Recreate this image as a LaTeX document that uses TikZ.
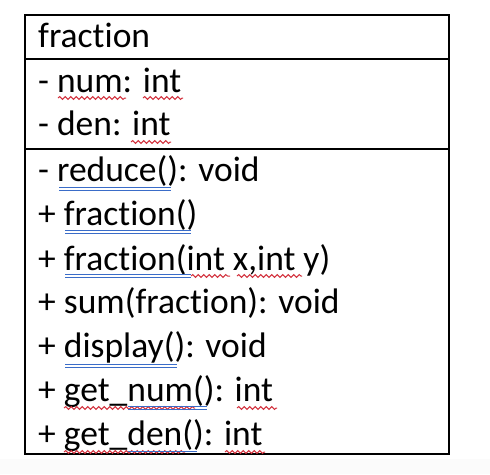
\documentclass[tikz,border=0pt]{standalone}
\usepackage{fontspec}
\setmainfont[Ligatures={NoCommon}]{Carlito}
\usetikzlibrary{decorations.pathmorphing}
\definecolor{spellred}{HTML}{D2303C}
\definecolor{grammarblue}{HTML}{3A6CC8}
\tikzset{
  member/.style={anchor=base west, inner sep=0pt, font=\fontsize{35.5}{40}\selectfont},
  frame/.style={draw=black, line width=2pt},
  spell/.style={draw=spellred, line width=1pt,
    decorate, decoration={snake, segment length=5.5pt, amplitude=1.4pt}},
  gram/.style={draw=grammarblue, line width=1pt}
}
% double grammar underline from x1 to x2 at depth y
\newcommand{\gramline}[3]{%
  \draw[gram] (#1,#3) -- (#2,#3);
  \draw[gram] (#1,#3+3.2) -- (#2,#3+3.2);}
\begin{document}
\begin{tikzpicture}[x=1pt, y=-1pt]
  \useasboundingbox (0,0) rectangle (490,474);
  \fill[gray!3] (0,459) rectangle (490,474);

  % class box with its three compartments
  \draw[frame] (25,15) rectangle (449,454);
  \draw[frame] (25,59) -- (449,59);
  \draw[frame] (25,149) -- (449,149);

  % class name
  \node[member] (name) at (38,47) {fraction};

  % attributes
  \node[member] (a1) at (38,92) {- num: int};
  \node[member] (a2) at (38,135) {- den: int};

  % operations
  \node[member] (m1) at (38,181) {- reduce(): void};
  \node[member] (m2) at (38,225) {+ fraction()};
  \node[member] (m3) at (38,270) {+ fraction(int x,int y)};
  \node[member] (m4) at (38,313) {+ sum(fraction): void};
  \node[member] (m5) at (38,357) {+ display(): void};
  \node[member] (m6) at (38,401) {+ get\_num(): int};
  \node[member] (m7) at (38,445) {+ get\_den(): int};

  % spelling marks
  \draw[spell] (58,98) -- (126,98);
  \draw[spell] (143,98) -- (183,98);
  \draw[spell] (131,142) -- (171,142);
  \draw[spell] (191,276) -- (230,276);
  \draw[spell] (237,276) -- (302,276);
  \draw[spell] (64,408) -- (195,408);
  \draw[spell] (237,408) -- (277,408);
  \draw[spell] (64,452) -- (185,452);
  \draw[spell] (225,452) -- (265,452);

  % grammar marks
  \gramline{59}{171}{187.5}
  \gramline{65}{191}{230}
  \gramline{65}{191}{274}
  \gramline{65}{177}{364}
  \gramline{128}{207}{406.5}
  \draw[gram] (128,451) -- (197,451);
\end{tikzpicture}
\end{document}
